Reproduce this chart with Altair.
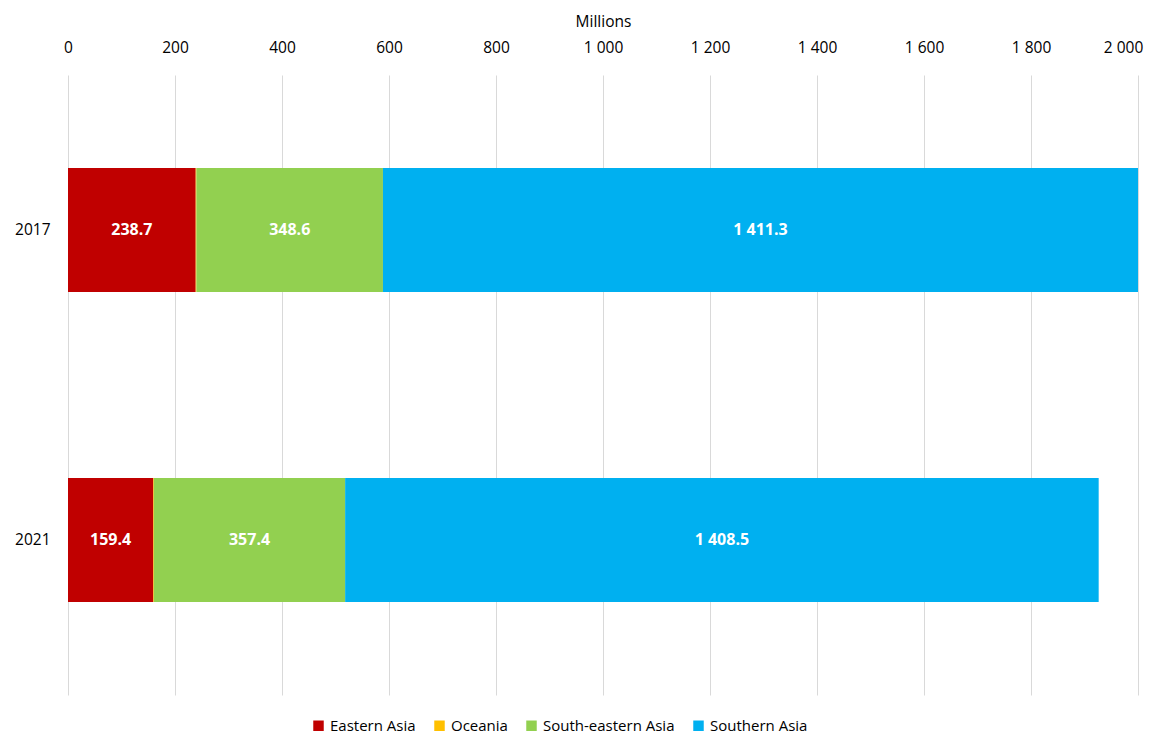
import altair as alt
import pandas as pd

years = ["2017", "2021"]
regions = ["Eastern Asia", "Oceania", "South-eastern Asia", "Southern Asia"]
colors = ["#C00000", "#FFC000", "#92D050", "#00B0F0"]
values = {
    "Eastern Asia": [238.7, 159.4],
    "Oceania": [1.4, 1.2],
    "South-eastern Asia": [348.6, 357.4],
    "Southern Asia": [1411.3, 1408.5],
}
x_ticks = [0, 200, 400, 600, 800, 1000, 1200, 1400, 1600, 1800, 2000]

rows = []
for ri, r in enumerate(regions):
    for yi, y in enumerate(years):
        rows.append({"year": y, "region": r, "value": values[r][yi], "order": ri})
df = pd.DataFrame(rows)

FONT = "Open Sans"

base = alt.Chart(df).transform_stack(
    stack="value", groupby=["year"], as_=["x0", "x1"], sort=[alt.SortField("order")]
).transform_calculate(
    mid="(datum.x0 + datum.x1) / 2",
    label="replace(format(datum.value, ',.1f'), ',', ' ')",
)

y_enc = alt.Y(
    "year:N",
    title=None,
    sort=years,
    scale=alt.Scale(paddingInner=0.6, paddingOuter=0.3),
    axis=alt.Axis(ticks=False, domain=False, grid=False, labelPadding=18, labelFontSize=15.5,
                  labelColor="#000000", labelFont=FONT),
)

bars = base.mark_bar().encode(
    x=alt.X(
        "x0:Q",
        scale=alt.Scale(domain=[0, 2000], nice=False),
        axis=alt.Axis(
            orient="top", values=x_ticks, title="Millions", titleFontSize=15.5,
            titleFontWeight="normal", titleFont=FONT, titleColor="#000000",
            titlePadding=11, labelFontSize=15.5, labelFont=FONT, labelColor="#000000",
            labelPadding=20, ticks=False, domain=False, grid=True, gridColor="#d9d9d9",
            labelFlush=False,
            labelOffset={"condition": {"test": "datum.value == 2000", "value": -15}, "value": 0},
            labelExpr="replace(format(datum.value, ','), ',', ' ')",
        ),
    ),
    x2="x1:Q",
    y=y_enc,
    color=alt.Color(
        "region:N",
        scale=alt.Scale(domain=regions, range=colors),
        sort=regions,
        legend=alt.Legend(
            title=None, orient="none", direction="horizontal", legendX=243, legendY=643,
            symbolType="square", symbolSize=110, symbolStrokeWidth=0,
            labelFontSize=15, labelFont=FONT, labelColor="#000000", columnPadding=16,
            symbolOpacity=1,
        ),
    ),
    order=alt.Order("order:Q"),
)

texts = base.transform_filter("datum.value > 20").mark_text(
    color="white", fontWeight="bold", fontSize=16, font=FONT
).encode(
    x=alt.X("mid:Q"),
    y=alt.Y("year:N", sort=years),
    text="label:N",
)

chart = alt.layer(bars, texts).properties(
    width=1070, height=620,
    autosize=alt.AutoSizeParams(type="none"),
    padding={"left": 60, "top": 67, "right": 16, "bottom": 43},
).configure_view(stroke=None)

chart.save("out.html", embed_options={"renderer": "svg", "actions": False})
